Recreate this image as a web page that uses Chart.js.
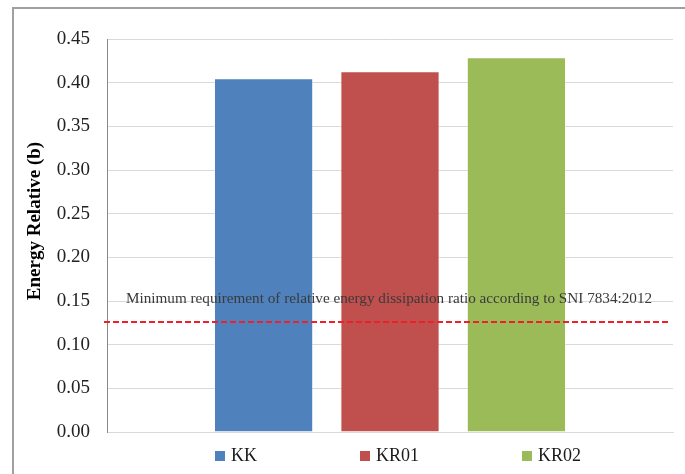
<!DOCTYPE html>
<html>
<head>
<meta charset="utf-8">
<script src="https://cdn.jsdelivr.net/npm/chart.js@4.4.1/dist/chart.umd.min.js"></script>
<style>
  html, body { margin: 0; padding: 0; background: #fff; overflow: hidden; }
  #wrap { position: relative; width: 685px; height: 474px; }
  #frame { position: absolute; left: 12px; top: 7px; width: 720px; height: 520px;
           border: 2px solid #a0a0a0; box-sizing: border-box; pointer-events: none; }
  canvas { position: absolute; left: 0; top: 0; }
  #legend { position: absolute; left: 215px; top: 445px; display: flex;
            font-family: "Liberation Serif", "Times New Roman", serif; font-size: 18px; color: #1a1a1a; }
  .item { display: flex; align-items: center; margin-right: 103px; }
  .box { width: 10px; height: 10px; margin-right: 6px; }
</style>
</head>
<body>
<div id="wrap">
  <canvas id="c" width="685" height="474"></canvas>
  <div id="frame"></div>
  <div id="legend"></div>
</div>
<script>
// datos
const categories   = [''];
const seriesNames  = ['KK', 'KR01', 'KR02'];
const kkValues     = [0.405];
const kr01Values   = [0.413];
const kr02Values   = [0.429];
const seriesColors = ['#4F81BD', '#C0504D', '#9BBB59'];
const yMin = 0, yMax = 0.45, yStep = 0.05;
const minRequirement = 0.126;
const minLabel = 'Minimum requirement of relative energy dissipation ratio according to SNI 7834:2012';
const yTitle = 'Energy Relative (b)';

const serif = '"Liberation Serif", "Times New Roman", serif';

// línea discontinua + texto del requisito mínimo
const limitLine = {
  id: 'limitLine',
  afterDatasetsDraw(chart) {
    const { ctx, chartArea, scales } = chart;
    const y = scales.y.getPixelForValue(minRequirement);
    ctx.save();
    ctx.strokeStyle = '#F0202A';
    ctx.lineWidth = 2;
    ctx.setLineDash([6, 3]);
    ctx.beginPath();
    ctx.moveTo(chartArea.left - 3, y);
    ctx.lineTo(chartArea.right - 3, y);
    ctx.stroke();
    ctx.setLineDash([]);
    ctx.fillStyle = '#3a3a3a';
    ctx.font = '15.2px ' + serif;
    ctx.textBaseline = 'alphabetic';
    ctx.fillText(minLabel, chartArea.left + 19, y - 19);
    ctx.restore();
  },
  afterDraw(chart) {
    // título del eje Y
    const { ctx, chartArea } = chart;
    ctx.save();
    ctx.translate(35, chartArea.top + 182);
    ctx.rotate(-Math.PI / 2);
    ctx.font = 'bold 19px ' + serif;
    ctx.fillStyle = '#000';
    ctx.textAlign = 'center';
    ctx.textBaseline = 'middle';
    ctx.fillText(yTitle, 0, 0);
    ctx.restore();
  }
};

const allValues = [kkValues, kr01Values, kr02Values];

const chart = new Chart(document.getElementById('c'), {
  type: 'bar',
  data: {
    labels: categories,
    datasets: seriesNames.map((name, i) => ({
      label: name,
      data: allValues[i],
      backgroundColor: seriesColors[i],
      borderColor: 'rgba(255,255,255,0.35)',
      borderWidth: 1,
      categoryPercentage: 0.67,
      barPercentage: 0.785
    }))
  },
  options: {
    responsive: false,
    animation: false,
    layout: { padding: { left: 0, right: 12, top: 39, bottom: 42 } },
    plugins: { legend: { display: false }, tooltip: { enabled: false } },
    scales: {
      x: {
        ticks: { display: false },
        grid: { display: false, drawTicks: false },
        border: { color: '#d9d9d9', width: 1 },
        afterFit: s => { s.height = 0; }
      },
      y: {
        min: yMin, max: yMax,
        ticks: {
          stepSize: yStep,
          padding: 17,
          color: '#222',
          font: { family: serif, size: 19 },
          callback: v => Number(v).toFixed(2)
        },
        grid: { color: '#d9d9d9', drawTicks: false },
        border: { color: '#8a8a8a', width: 1 },
        afterFit: s => { s.width = 107; }
      }
    }
  },
  plugins: [limitLine]
});

// leyenda en HTML
const legend = document.getElementById('legend');
seriesNames.forEach((name, i) => {
  const item = document.createElement('div');
  item.className = 'item';
  item.innerHTML = `<span class="box" style="background:${seriesColors[i]}"></span><span>${name}</span>`;
  legend.appendChild(item);
});
</script>
</body>
</html>
